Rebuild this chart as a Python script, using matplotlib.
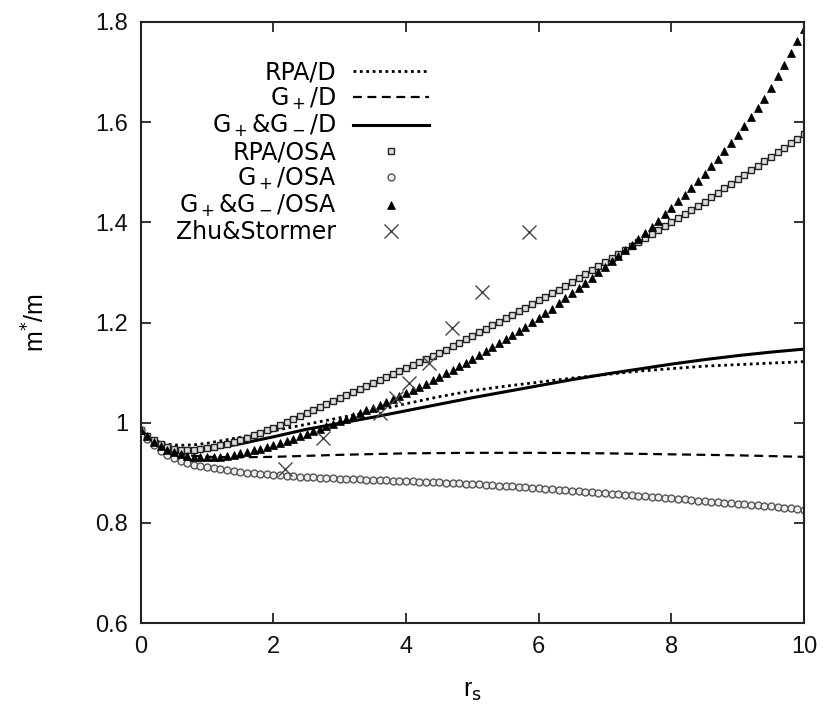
import numpy as np
import matplotlib
matplotlib.use("Agg")
import matplotlib.pyplot as plt

plt.rcParams['font.family'] = ['Liberation Sans', 'DejaVu Sans']
plt.rcParams['mathtext.fontset'] = 'custom'
plt.rcParams['mathtext.rm'] = 'DejaVu Sans'
plt.rcParams['mathtext.it'] = 'DejaVu Sans'

# ---- Dirac-type (D) curves: r_s knots and effective mass ratio ----
rs_rpa_d = [0.0, 0.2, 0.4, 0.6, 0.8, 1.0, 1.5, 2.0, 2.5, 3.0, 3.5, 4.0, 4.5,
            5.0, 5.5, 6.0, 6.5, 7.0, 7.5, 8.0, 8.5, 9.0, 9.5, 10.0]
m_rpa_d = [0.985, 0.965, 0.957, 0.955, 0.956, 0.959, 0.971, 0.984, 0.997, 1.010,
           1.023, 1.038, 1.052, 1.064, 1.073, 1.081, 1.089, 1.096, 1.103, 1.108,
           1.113, 1.116, 1.119, 1.122]

rs_gp_d = [0.0, 0.2, 0.4, 0.6, 0.8, 1.0, 1.5, 2.0, 3.0, 4.0, 5.0, 6.0, 7.0,
           8.0, 9.0, 10.0]
m_gp_d = [0.985, 0.960, 0.946, 0.938, 0.934, 0.932, 0.931, 0.932, 0.936, 0.939,
          0.940, 0.940, 0.939, 0.937, 0.935, 0.932]

rs_gpm_d = [0.0, 0.2, 0.4, 0.6, 0.8, 1.0, 1.5, 2.0, 2.5, 3.0, 3.5, 4.0, 4.5,
            5.0, 5.5, 6.0, 6.5, 7.0, 7.5, 8.0, 8.5, 9.0, 9.5, 10.0]
m_gpm_d = [0.985, 0.962, 0.950, 0.946, 0.945, 0.946, 0.958, 0.972, 0.987, 0.999,
           1.011, 1.024, 1.037, 1.050, 1.062, 1.074, 1.086, 1.097, 1.107, 1.117,
           1.126, 1.134, 1.141, 1.147]

# ---- OSA results on a 0.1 grid in r_s ----
rs_osa = [round(0.1 * i, 1) for i in range(101)]

m_rpa_osa = [
    0.985, 0.974, 0.965, 0.958, 0.952, 0.948, 0.946, 0.945, 0.946, 0.947,
    0.949, 0.952, 0.955, 0.958, 0.962, 0.966, 0.970, 0.975, 0.980, 0.985,
    0.990, 0.995, 1.001, 1.007, 1.013, 1.019, 1.025, 1.031, 1.037, 1.043,
    1.049, 1.055, 1.061, 1.067, 1.073, 1.079, 1.085, 1.091, 1.097, 1.103,
    1.109, 1.115, 1.121, 1.127, 1.133, 1.140, 1.146, 1.153, 1.160, 1.167,
    1.174, 1.181, 1.188, 1.195, 1.202, 1.209, 1.216, 1.223, 1.230, 1.237,
    1.244, 1.251, 1.258, 1.265, 1.273, 1.281, 1.289, 1.297, 1.305, 1.313,
    1.321, 1.329, 1.337, 1.345, 1.353, 1.361, 1.369, 1.377, 1.385, 1.393,
    1.401, 1.409, 1.417, 1.425, 1.433, 1.441, 1.450, 1.459, 1.468, 1.477,
    1.486, 1.495, 1.504, 1.513, 1.522, 1.531, 1.540, 1.549, 1.558, 1.567,
    1.576]

m_gp_osa = [
    0.985, 0.968, 0.955, 0.944, 0.936, 0.929, 0.924, 0.920, 0.916, 0.913,
    0.911, 0.909, 0.907, 0.905, 0.903, 0.902, 0.900, 0.899, 0.898, 0.897,
    0.896, 0.895, 0.894, 0.893, 0.892, 0.891, 0.891, 0.890, 0.889, 0.889,
    0.888, 0.888, 0.887, 0.887, 0.886, 0.886, 0.885, 0.885, 0.884, 0.884,
    0.883, 0.883, 0.882, 0.882, 0.881, 0.881, 0.880, 0.879, 0.879, 0.878,
    0.877, 0.877, 0.876, 0.875, 0.874, 0.874, 0.873, 0.872, 0.871, 0.870,
    0.869, 0.868, 0.867, 0.866, 0.865, 0.864, 0.863, 0.862, 0.861, 0.860,
    0.859, 0.858, 0.857, 0.856, 0.855, 0.854, 0.853, 0.852, 0.851, 0.850,
    0.849, 0.848, 0.847, 0.846, 0.844, 0.843, 0.842, 0.841, 0.840, 0.839,
    0.838, 0.837, 0.836, 0.835, 0.834, 0.833, 0.832, 0.830, 0.829, 0.828,
    0.826]

m_gpm_osa = [
    0.985, 0.973, 0.962, 0.953, 0.946, 0.941, 0.937, 0.934, 0.932, 0.931,
    0.931, 0.931, 0.932, 0.934, 0.936, 0.939, 0.942, 0.945, 0.948, 0.952,
    0.955, 0.959, 0.963, 0.968, 0.973, 0.978, 0.983, 0.988, 0.993, 0.998,
    1.003, 1.008, 1.013, 1.019, 1.025, 1.030, 1.036, 1.042, 1.048, 1.054,
    1.060, 1.066, 1.072, 1.078, 1.085, 1.092, 1.099, 1.106, 1.113, 1.120,
    1.127, 1.135, 1.143, 1.151, 1.159, 1.167, 1.175, 1.183, 1.192, 1.201,
    1.210, 1.219, 1.228, 1.238, 1.248, 1.258, 1.268, 1.278, 1.289, 1.300,
    1.311, 1.322, 1.333, 1.344, 1.355, 1.367, 1.379, 1.391, 1.403, 1.416,
    1.429, 1.442, 1.455, 1.469, 1.483, 1.497, 1.512, 1.527, 1.543, 1.559,
    1.575, 1.592, 1.610, 1.628, 1.647, 1.669, 1.691, 1.714, 1.738, 1.762,
    1.786]

# ---- Experimental points ----
rs_exp = [2.17, 2.75, 3.6, 3.85, 4.05, 4.35, 4.69, 5.15, 5.85]
m_exp = [0.908, 0.970, 1.020, 1.050, 1.080, 1.120, 1.190, 1.260, 1.380]

fig = plt.figure(figsize=(8.23, 7.05), dpi=100)
ax = fig.add_axes([0.171, 0.116, 0.806, 0.853])

ax.plot(rs_rpa_d, m_rpa_d, color='black', lw=2.0, ls=(0, (1, 1.3)),
        label='RPA/D')
ax.plot(rs_gp_d, m_gp_d, color='black', lw=1.6, ls=(0, (4, 2.5)),
        label='G$_+$/D')
ax.plot(rs_gpm_d, m_gpm_d, color='black', lw=2.2, ls='-',
        label='G$_+$&G$_-$/D')
ax.plot(rs_osa, m_rpa_osa, ls='none', marker='s', ms=5, mfc='#dddddd',
        mec='#222222', mew=1.0, label='RPA/OSA')
ax.plot(rs_osa, m_gp_osa, ls='none', marker='o', ms=5, mfc='#eeeeee',
        mec='#555555', mew=1.0, label='G$_+$/OSA')
ax.plot(rs_osa, m_gpm_osa, ls='none', marker='^', ms=5.5, mfc='black',
        mec='black', mew=0.5, label='G$_+$&G$_-$/OSA')
ax.plot(rs_exp, m_exp, ls='none', marker='x', ms=10, mec='#444444',
        mew=1.0, label='Zhu&Stormer')

ax.set_xlim(0, 10)
ax.set_ylim(0.6, 1.8)
ax.set_xticks([0, 2, 4, 6, 8, 10])
ax.set_yticks([0.6, 0.8, 1.0, 1.2, 1.4, 1.6, 1.8])
ax.set_yticklabels(['0.6', '0.8', '1', '1.2', '1.4', '1.6', '1.8'])
ax.tick_params(direction='in', length=7, width=1.2, top=True, right=True,
               labelsize=17, pad=9, colors='#111111')
for s in ax.spines.values():
    s.set_linewidth(1.5)
    s.set_color('#222222')

ax.set_xlabel('r$_\\mathrm{s}$', fontsize=18, labelpad=15)
ax.set_ylabel('m$^{*}$/m', fontsize=18, labelpad=33)

leg = ax.legend(loc='upper right', bbox_to_anchor=(0.434, 0.936),
                frameon=False, markerfirst=False,
                prop={'family': 'DejaVu Sans', 'size': 17},
                handlelength=3.2, handletextpad=0.72, labelspacing=0.05,
                borderaxespad=0.0, borderpad=0.0)

fig.savefig('out.png', dpi=100)
